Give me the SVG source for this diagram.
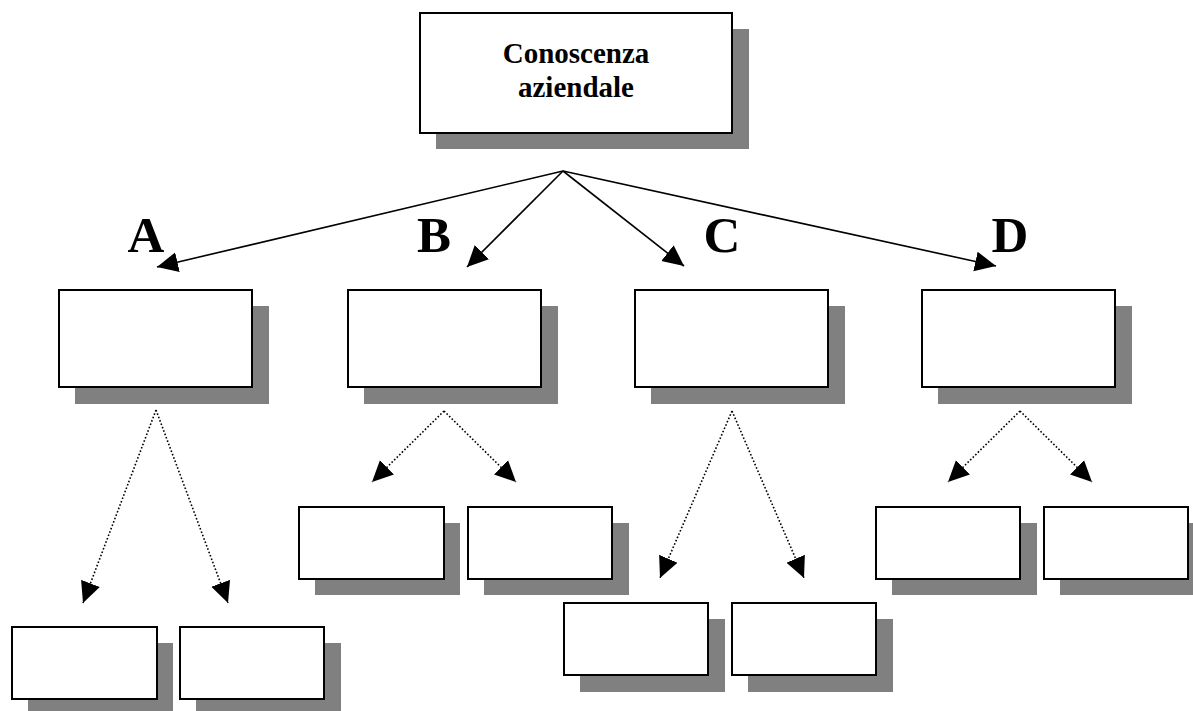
<svg xmlns="http://www.w3.org/2000/svg" width="1193" height="711" viewBox="0 0 1193 711">
  <style>
    .shadow { fill: #808080; }
    .box { fill: #ffffff; stroke: #000000; stroke-width: 2; }
    .solid { stroke: #000000; stroke-width: 1.6; fill: none; }
    .dotted { stroke: #000000; stroke-width: 1.6; fill: none; stroke-dasharray: 1.6 2; }
    .title { font-family: "Liberation Serif", "Times New Roman", serif; font-weight: bold; font-size: 29px; fill: #000; text-anchor: middle; }
    .letter { font-family: "Liberation Serif", "Times New Roman", serif; font-weight: bold; font-size: 51px; fill: #000; text-anchor: middle; }
  </style>
  <defs>
    <marker id="head" markerUnits="userSpaceOnUse" markerWidth="22" markerHeight="22" refX="21" refY="10" orient="auto" viewBox="0 0 22 20">
      <path d="M0,0 L21,10 L0,20 z" fill="#000000"/>
    </marker>
  </defs>

  <rect width="1193" height="711" fill="#ffffff"/>

  <!-- root -->
  <g id="root">
    <rect class="shadow" x="436" y="29" width="313" height="120"/>
    <rect class="box" x="420" y="13" width="312" height="120"/>
    <text class="title" x="576" y="63">Conoscenza</text>
    <text class="title" x="576" y="97">aziendale</text>
  </g>

  <!-- branch labels -->
  <g id="labels">
    <text class="letter" x="146" y="252">A</text>
    <text class="letter" x="434" y="252">B</text>
    <text class="letter" x="722" y="252">C</text>
    <text class="letter" x="1010" y="252">D</text>
  </g>

  <!-- first level -->
  <g id="nodeA">
    <rect class="shadow" x="75" y="306" width="194" height="98"/>
    <rect class="box" x="59" y="290" width="193" height="97"/>
  </g>
  <g id="nodeB">
    <rect class="shadow" x="364" y="306" width="194" height="98"/>
    <rect class="box" x="348" y="290" width="193" height="97"/>
  </g>
  <g id="nodeC">
    <rect class="shadow" x="651" y="306" width="194" height="98"/>
    <rect class="box" x="635" y="290" width="193" height="97"/>
  </g>
  <g id="nodeD">
    <rect class="shadow" x="938" y="306" width="194" height="98"/>
    <rect class="box" x="922" y="290" width="193" height="97"/>
  </g>

  <!-- second level -->
  <g id="nodeA1">
    <rect class="shadow" x="28" y="643" width="145" height="72"/>
    <rect class="box" x="12" y="627" width="145" height="72"/>
  </g>
  <g id="nodeA2">
    <rect class="shadow" x="196" y="643" width="145" height="72"/>
    <rect class="box" x="180" y="627" width="144" height="72"/>
  </g>
  <g id="nodeB1">
    <rect class="shadow" x="315" y="523" width="145" height="72"/>
    <rect class="box" x="299" y="507" width="145" height="72"/>
  </g>
  <g id="nodeB2">
    <rect class="shadow" x="484" y="523" width="145" height="72"/>
    <rect class="box" x="468" y="507" width="144" height="72"/>
  </g>
  <g id="nodeC1">
    <rect class="shadow" x="580" y="619" width="145" height="73"/>
    <rect class="box" x="564" y="603" width="144" height="72"/>
  </g>
  <g id="nodeC2">
    <rect class="shadow" x="748" y="619" width="145" height="73"/>
    <rect class="box" x="732" y="603" width="144" height="72"/>
  </g>
  <g id="nodeD1">
    <rect class="shadow" x="892" y="523" width="145" height="72"/>
    <rect class="box" x="876" y="507" width="144" height="72"/>
  </g>
  <g id="nodeD2">
    <rect class="shadow" x="1060" y="523" width="145" height="72"/>
    <rect class="box" x="1044" y="507" width="144" height="72"/>
  </g>

  <!-- connectors -->
  <g id="connectors">
    <line class="solid" x1="563" y1="171" x2="157" y2="267" marker-end="url(#head)"/>
    <line class="solid" x1="563" y1="171" x2="467" y2="267" marker-end="url(#head)"/>
    <line class="solid" x1="563" y1="171" x2="684" y2="266" marker-end="url(#head)"/>
    <line class="solid" x1="563" y1="171" x2="996" y2="266" marker-end="url(#head)"/>

    <line class="dotted" x1="156" y1="410" x2="83" y2="603" marker-end="url(#head)"/>
    <line class="dotted" x1="156" y1="410" x2="228" y2="603" marker-end="url(#head)"/>
    <line class="dotted" x1="444" y1="411" x2="372" y2="482" marker-end="url(#head)"/>
    <line class="dotted" x1="444" y1="411" x2="516" y2="482" marker-end="url(#head)"/>
    <line class="dotted" x1="732" y1="411" x2="660" y2="578" marker-end="url(#head)"/>
    <line class="dotted" x1="732" y1="411" x2="804" y2="578" marker-end="url(#head)"/>
    <line class="dotted" x1="1020" y1="411" x2="948" y2="482" marker-end="url(#head)"/>
    <line class="dotted" x1="1020" y1="411" x2="1092" y2="482" marker-end="url(#head)"/>
  </g>
</svg>
